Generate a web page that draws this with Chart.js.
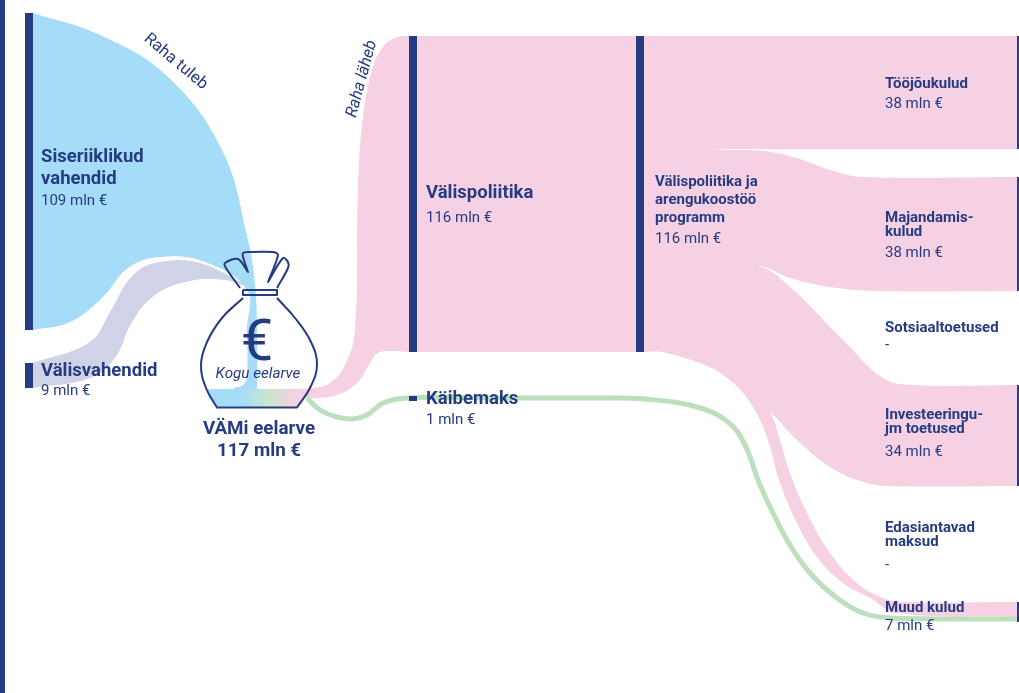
<!DOCTYPE html>
<html lang="et">
<head>
<meta charset="utf-8">
<title>VÄMi eelarve</title>
<script src="https://cdn.jsdelivr.net/npm/chart.js@4"></script>
<style>
html,body{margin:0;padding:0;background:#fff;overflow:hidden}
canvas{display:block}
</style>
</head>
<body>
<canvas id="sankey" width="1019" height="693"></canvas>
<script>
// joonise ühikud = reference pildi pikslid, loetud pildilt
const NAVY='#263c82', BLUE='#a5dcf7', VIOLET='#d0d2e7', PINK='#f6d0e3', GREEN='#bce0bd';

/* ---------- sõlmed (node ribad) ---------- */
const nodeX     =[2.5, 29, 29, 413, 413, 640, 1018, 1018, 1018, 1018];
const nodeTop   =[0,   13, 363, 36, 396, 36,  36,   177,  385,  602];
const nodeBottom=[693, 330,388, 352,401, 352, 149,  291,  486,  622];
const nodeWidth =[5,   8,  8,   8,  8,   8,   2,    2,    2,    2];

/* ---------- voolud, ülemine ja alumine serv ---------- */
const siseTopX=[33,100,167,222,248,255,257,257];
const siseTopY=[13,35,76,150,240,285,330,396];
const siseBotX=[33,70,103,128,160,205,247,247,247,243,233,233];
const siseBotY=[330,322,297,268,257,262,290,330,377,385,389,396];

const valisTopX=[33,90,110,133,160,200,247];
const valisTopY=[363,342,312,275,262,263,285];
const valisBotX=[33,90,115,132,155,190,225,247];
const valisBotY=[388,378,358,322,295,281,280,287];

const kuluTopX=[296,313,330,345,355,358,363,372,383,397,410];
const kuluTopY=[389,388,383,365,330,187,117,70,47,37,36];
const kuluBotX=[296,317,337,357,370,378,393,410];
const kuluBotY=[398,398,395,383,363,353,351,352];

const bodyX=[413,640], bodyTopY=[36,36], bodyBotY=[352,352];

const toojoudX=[640,1018], toojoudTopY=[36,36], toojoudBotY=[149,149];

const majandTopX=[640,690,715,763,797,830,863,1018];
const majandTopY=[130,142,149,151,158,170,177,177];
const majandBotX=[640,700,758,790,830,880,1018];
const majandBotY=[275,275,266,278,287,291,291];

const investTopX=[640,758,790,843,883,913,1018];
const investTopY=[255,266,287,340,378,385,385];
const investBotX=[640,720,770,797,830,863,890,1018];
const investBotY=[345,372,412,440,467,482,486,486];

const muudTopX=[640,720,770,780,790,807,830,857,883,903,1018];
const muudTopY=[280,335,412,440,473,513,553,583,598,602,602];
const muudBotX=[640,663,697,723,743,760,770,780,797,817,843,870,897,1018];
const muudBotY=[352,352,360,375,393,420,447,483,523,557,583,598,613,617];

const kotiPohiX=[208,310,305,297,217,208];
const kotiPohiY=[389,389,398,408,408,396];

const kaibemaksX=[307,320,337,353,367,383,407,500,600,645,697,728,745,760,787,810,837,863,890,1018];
const kaibemaksY=[398,410,417,419,415,403,398,398,398,399,407,422,445,485,540,573,598,613,618,619];

/* ---------- rahakott ---------- */
const kottX=[243,222,207,201,206,217,217,297,297,310,317,311,295,277];
const kottY=[298,318,342,365,388,407.5,407.5,407.5,407.5,388,365,342,318,298];
const kaelusX=[243,277,277,243,243];
const kaelusY=[290,290,295,295,290];
const solmX=[240,226,225,238,248,248,243,243,248,273,278,268,268,283,288,288,277];
const solmY=[288,268,263,259,272,272,257,253,252,252,255,282,282,258,262,268,288];

/* ---------- tekstid ---------- */
const labelText=['Siseriiklikud','vahendid','109 mln €','Välisvahendid','9 mln €','VÄMi eelarve','117 mln €','Kogu eelarve','€',
  'Välispoliitika','116 mln €','Käibemaks','1 mln €','Välispoliitika ja','arengukoostöö','programm','116 mln €',
  'Tööjõukulud','38 mln €','Majandamis-','kulud','38 mln €','Sotsiaaltoetused','-','Investeeringu-','jm toetused','34 mln €',
  'Edasiantavad','maksud','-','Muud kulud','7 mln €','Raha tuleb','Raha läheb'];
const labelX=[41,41,41,41,41,259,259,258,257,426,426,426,426,655,655,655,655,885,885,885,885,885,885,885,885,885,885,885,885,885,885,885,173,366];
const labelY=[162,184,205,376,395,434,456,378,360,198,222,404,424,186,204,222,243,88,108,222,236,257,332,349,419,433,456,532,546,569,612,630,65,80];
const B18='700 18.5px Roboto', R15='400 15px Roboto', B15='700 15px Roboto', B19='700 18.8px Roboto';
const labelFont=[B18,B18,R15,B18,R15,B19,B19,'italic 400 15.2px Roboto','400 58px Roboto',
  B18,R15,B18,R15,B15,B15,B15,R15,
  B15,R15,B15,B15,R15,B15,R15,B15,B15,R15,B15,B15,R15,B15,R15,'400 16.5px Roboto','italic 400 16.5px Roboto'];
const centeredLabels=[5,6,7,8];
const labelAngle={32:40,33:-75};

function pts(xs,ys){return xs.map((x,i)=>({x,y:ys[i]}));}

// suletud kujund: ülemine serv + tagurpidi alumine; nurgapunktid kahekordselt, et jääks terav
function ribbon(topX,topY,botX,botY,color){
  const top=pts(topX,topY), bot=pts(botX,botY).reverse();
  const first=top[0], lastT=top[top.length-1], firstB=bot[0], lastB=bot[bot.length-1];
  return {data:[first,...top,lastT,firstB,...bot,lastB,first],backgroundColor:color,fill:'shape',borderWidth:0,tension:.4};
}
function outline(xs,ys,tension){
  return {data:pts(xs,ys),borderColor:NAVY,borderWidth:2,fill:false,tension,borderJoinStyle:'round'};
}

const kotiGradient=c=>{
  const g=c.chart.ctx.createLinearGradient(205,0,310,0);
  g.addColorStop(0,BLUE); g.addColorStop(.33,BLUE); g.addColorStop(.6,'#c9e6cf'); g.addColorStop(.88,PINK); g.addColorStop(1,PINK);
  return g;
};

const datasets=[
  ribbon(siseTopX,siseTopY,siseBotX,siseBotY,BLUE),
  ribbon(valisTopX,valisTopY,valisBotX,valisBotY,VIOLET),
  ribbon(kuluTopX,kuluTopY,kuluBotX,kuluBotY,PINK),
  ribbon(bodyX,bodyTopY,bodyX,bodyBotY,PINK),
  ribbon(toojoudX,toojoudTopY,toojoudX,toojoudBotY,PINK),
  ribbon(majandTopX,majandTopY,majandBotX,majandBotY,PINK),
  ribbon(investTopX,investTopY,investBotX,investBotY,PINK),
  ribbon(muudTopX,muudTopY,muudBotX,muudBotY,PINK),
  {data:pts(kotiPohiX,kotiPohiY),backgroundColor:kotiGradient,fill:'shape',borderWidth:0,tension:0},
  {data:pts(kaibemaksX,kaibemaksY),borderColor:GREEN,borderWidth:5,fill:false,tension:.4},
  outline(kottX,kottY,.4),
  outline(kaelusX,kaelusY,0),
  outline(solmX,solmY,.3),
  ...nodeX.map((x,i)=>({data:[{x,y:nodeTop[i]},{x,y:nodeBottom[i]}],borderColor:NAVY,borderWidth:nodeWidth[i],fill:false,tension:0,borderCapStyle:'butt'}))
].reverse(); // Chart.js joonistab esimese viimasena

const labelPlugin={
  id:'labels',
  afterDatasetsDraw(chart){
    const {ctx,scales:{x,y}}=chart;
    labelText.forEach((t,i)=>{
      ctx.save();
      ctx.translate(x.getPixelForValue(labelX[i]),y.getPixelForValue(labelY[i]));
      if(labelAngle[i]) ctx.rotate(labelAngle[i]*Math.PI/180);
      ctx.font=labelFont[i];
      ctx.fillStyle=NAVY;
      ctx.textAlign=(centeredLabels.includes(i)||labelAngle[i])?'center':'left';
      ctx.textBaseline='alphabetic';
      ctx.fillText(t,0,0);
      ctx.restore();
    });
  }
};

new Chart(document.getElementById('sankey').getContext('2d'),{
  type:'line',
  data:{datasets},
  options:{
    responsive:false,animation:false,events:[],
    layout:{padding:0},
    elements:{point:{radius:0}},
    plugins:{legend:{display:false},title:{display:false},tooltip:{enabled:false}},
    scales:{
      x:{type:'linear',min:0,max:1019,display:false},
      y:{type:'linear',min:0,max:693,reverse:true,display:false}
    }
  },
  plugins:[labelPlugin]
});
</script>
</body>
</html>
